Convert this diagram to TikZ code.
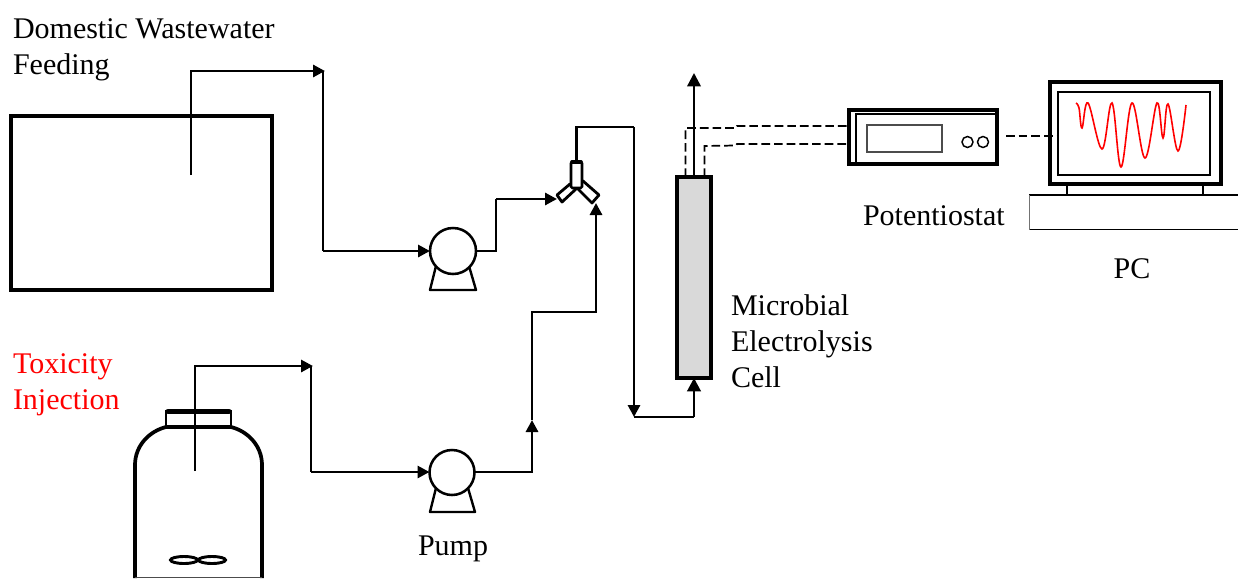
\documentclass[tikz,border=0pt]{standalone}
\usepackage{fontspec}
\setmainfont{Liberation Serif}
\usetikzlibrary{arrows.meta,calc,shapes.geometric}
\def\pu{0.75pt}
\tikzset{
  x=0.75pt,y=-0.75pt,
  every node/.style={inner sep=0pt,outer sep=0pt},
  boxthick/.style={draw=black,line width=2.6pt,rectangle,minimum width=#1*\pu},
  pipe/.style={draw=black,line width=2.2pt,line join=miter},
  pipearrow/.style={pipe,-{Triangle[length=9pt,width=9pt]}},
  thinpipe/.style={draw=black,line width=1.8pt},
  sig/.style={draw=black,line width=1.3pt,dash pattern=on 6.5pt off 3pt},
  pumphead/.style={circle,draw=black,line width=1.9pt,fill=white,minimum size=#1*\pu},
  pumpbase/.style={draw=black,line width=1.8pt,line join=round},
  lab/.style={font=\fontsize{22.5pt}{27pt}\selectfont,align=left,anchor=west,text=black},
  labr/.style={lab,text=red},
  thinbox/.style={draw=#1,line width=0.8pt},
}
\begin{document}
\begin{tikzpicture}
\useasboundingbox (0,0) rectangle (1238,578);

% Tank
\node[boxthick=261,minimum height=174*\pu] (tank) at (141.5,203) {};

% Pumps
\draw[pumpbase] (436,266) -- (430,290) -- (476,290) -- (469,266);
\node[pumphead=46] (pumpa) at (453,251) {};
\draw[pumpbase] (436,488) -- (430,512) -- (475,512) -- (468,488);
\node[pumphead=45] (pumpb) at (452,472.5) {};

% Cell
\node[draw=black,line width=2.6pt,fill=black!15,minimum width=34*\pu,minimum height=201*\pu] (cell) at (694,277.5) {};

% Y connector
\coordinate (ytop) at (576.5,161);
\coordinate (yleft) at (557,199);
\coordinate (yright) at (596,203);
\draw[black,line width=2.1pt,fill=white,line join=round] (557,195) -- (562,202) -- (576,189) -- (570,184) -- cycle;
\draw[black,line width=2.1pt,fill=white,line join=round] (583,181) -- (599,195) -- (592,203) -- (577,188) -- cycle;
\node[draw=black,line width=1.9pt,fill=white,rounded corners=1pt,minimum width=11*\pu,minimum height=26*\pu] (ybody) at (576.5,175) {};
\draw[black,line width=2.8pt,line cap=round] (572,162) -- (581,162);

% Feed line from the tank
\coordinate (fstart) at (191,175);
\coordinate (fturn) at (323,71);
\draw[thinpipe] (fstart) -- (191,71) -- (215,71);
\draw[pipearrow,shorten >=-1.5pt] (215,71) -- (fturn);
\draw[pipe] (fturn) -- (323,251);
\draw[pipearrow] (323,251) -- (pumpa.west);
\draw[pipe] (pumpa.east) -| (496,199);
\draw[pipearrow] (496,199) -- (yleft);

% Y to cell
\coordinate (tturn) at (634,127);
\coordinate (bturn) at (634,417);
\draw[pipe] (ytop) |- (tturn);
\draw[pipearrow] (tturn) -- (bturn);
\draw[thinpipe] (bturn) -- (694,417);
\draw[pipe,-{Triangle[length=10pt,width=10pt]}] (694,417) -- (cell.south);

% Cell outlet
\coordinate (outlet) at (694,73);
\draw[thinpipe,-{Triangle[length=10pt,width=10pt]}] (cell.north) -- (outlet);

% Potentiostat
\node[draw=black,line width=2.6pt,minimum width=148*\pu,minimum height=54*\pu] (pot) at (923,137) {};
\draw[black,line width=1.2pt] (856,164) -- (856,114) -- (998,114) -- (998,164);
\node[thinbox=black!70,minimum width=75*\pu,minimum height=27*\pu] (disp) at (904.5,138.5) {};
\node[circle,draw=black,line width=1.1pt,minimum size=11*\pu] (knoba) at (967.5,142) {};
\node[circle,draw=black,line width=1.1pt,minimum size=11*\pu] (knobb) at (983,142) {};

% Signal lines
\coordinate (sa) at (685.5,177);
\coordinate (sb) at (704.5,177);
\draw[sig] (sa) -- (685.5,128) -- (736,128) -- (737,126) -- (pot.west |- 0,126);
\draw[sig] (sb) -- (704.5,146) -- (736,145.5) -- (737,144) -- (pot.west |- 0,144);

% Monitor
\node[draw=black,line width=2.6pt,minimum width=171*\pu,minimum height=102*\pu] (mon) at (1135.5,133) {};
\node[draw=black,line width=1.2pt,minimum width=152*\pu,minimum height=83*\pu] (scr) at (1134,133.5) {};
\draw[sig] (1006,136) -- (scr.west |- 0,136);
\draw[black,line width=1pt] (1067,184) -- (1067,195) (1203,184) -- (1203,195);
\draw[black,line width=1pt] (1029,195) -- (1238,195);
\draw[black,line width=1pt] (1029,229.5) -- (1238,229.5);
\draw[black!55,line width=0.7pt] (1029,195) -- (1029,229.5);
\draw[red,line width=1.2pt] plot[smooth,tension=0.62] coordinates {(1076,103) (1079,108) (1082,128) (1088,103) (1102,149) (1112,103) (1121,167) (1132,103) (1145,158) (1157,103) (1163,138) (1168,104) (1178,151) (1186,105)};

% Bottle
\draw[black,line width=2.8pt] (135,578) -- (135,465) .. controls (135,445) and (150,431) .. (166,427) -- (231,427) .. controls (247,431) and (262,445) .. (262,465) -- (262,578);
\draw[black!70,line width=0.8pt] (135,577.5) -- (262,577.5);
\node[draw=black,line width=2pt,minimum width=65*\pu,minimum height=15*\pu] (cap) at (198.5,419) {};
\draw[black,line width=4pt,line cap=round] (168,411.5) -- (229,411.5);
\node[draw=black,line width=2.2pt,ellipse,minimum width=27*\pu,minimum height=7*\pu] (impa) at (184,560) {};
\node[draw=black,line width=2.2pt,ellipse,minimum width=27*\pu,minimum height=7*\pu] (impb) at (212,560) {};

% Injection line
\coordinate (istart) at (195,471);
\coordinate (iturn) at (311,366);
\draw[thinpipe] (istart) -- (195,366) -- (215,366);
\draw[pipearrow,shorten >=-1.5pt] (215,366) -- (iturn);
\draw[pipe] (iturn) -- (311,472);
\draw[pipearrow] (311,472) -- (pumpb.west |- 0,472);
\coordinate (mid) at (532,420);
\draw[pipe] (pumpb.east |- 0,472) -| (532,432);
\draw[pipearrow] (532,472) -- (mid);
\draw[pipe] (mid) -- (532,312) -| (596,240);
\draw[pipearrow] (596,240) -- (yright);

% Labels
\node[lab] (tfeed) at (13,50) {Domestic Wastewater\\Feeding};
\node[labr] (ttox) at (13,384.5) {Toxicity\\Injection};
\node[lab,anchor=base west] (tpump) at (418,555) {Pump};
\node[lab,anchor=base west] (tpot) at (863,225.5) {Potentiostat};
\node[lab,anchor=base] (tpc) at (1132,278) {PC};
\node[lab] (tmec) at (731,341) {Microbial\\Electrolysis\\Cell};
\end{tikzpicture}
\end{document}
